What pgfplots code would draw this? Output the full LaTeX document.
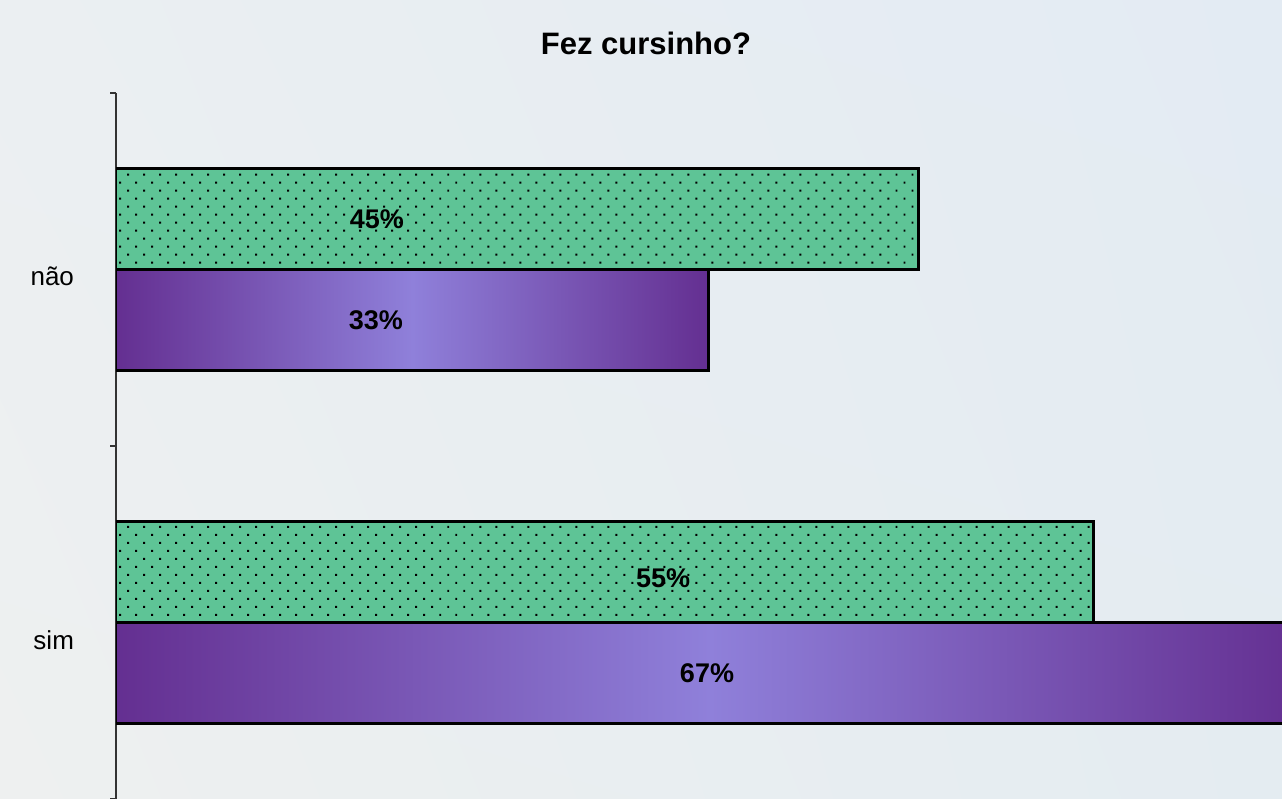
\documentclass[border=0pt]{standalone}
\usepackage{fontspec}
\setmainfont{Liberation Sans}
\usepackage{pgfplots}
\pgfplotsset{compat=1.18}
\usetikzlibrary{patterns.meta,shadings}
\definecolor{bgUL}{HTML}{EBEFF2}
\definecolor{bgUR}{HTML}{E3EBF3}
\definecolor{bgLL}{HTML}{EEF0F0}
\definecolor{bgLR}{HTML}{E4ECF1}
\definecolor{bargreen}{HTML}{5EC496}
\definecolor{pedge}{HTML}{642F91}
\definecolor{pmid}{HTML}{8F80DA}
\begin{document}
\begin{tikzpicture}
\shade[upper left=bgUL, upper right=bgUR, lower left=bgLL, lower right=bgLR] (0,0) rectangle (641pt,399.5pt);
\node[font=\bfseries\fontsize{15.5}{18}\selectfont] at (323pt,378pt) {Fez cursinho?};
\begin{axis}[
  at={(58pt,0pt)}, anchor=south west,
  scale only axis, width=583pt, height=353pt,
  xmin=0, xmax=65.5, ymin=0, ymax=2,
  axis x line=none, axis y line*=left,
  axis line style={draw=black!80, line width=1.4pt},
  every tick/.append style={draw=black!80, line width=1.4pt},
  ytick={0.45,1.482}, yticklabels={sim,não},
  major tick length=0pt,
  extra y ticks={0,1,2}, extra y tick labels={},
  extra y tick style={major tick length=3pt, tick align=outside,
    every tick/.append style={draw=black!80, line width=1.4pt}},
  yticklabel style={font=\fontsize{13}{15}\selectfont, xshift=-17.5pt},
  clip=true,
]
\addplot[xbar, bar width=0.286, bar shift=0.143, draw=black, line width=1.4pt,
  fill=bargreen,
  postaction={pattern={Dots[angle=45,distance=5.66pt,radius=0.7pt]}, pattern color=black}]
  coordinates {(45.1,1.5) (54.9,0.5)};
\addplot[xbar, bar width=0.286, bar shift=-0.143, draw=black, line width=1.4pt,
  left color=pedge, right color=pedge, middle color=pmid]
  coordinates {(33.3,1.5)};
\addplot[xbar, bar width=0.286, bar shift=-0.143, draw=black, line width=1.4pt,
  left color=pedge, right color=pedge, middle color=pmid]
  coordinates {(66.7,0.5)};
\node[font=\bfseries\fontsize{13.5}{16}\selectfont] at (axis cs:14.66,1.643) {45\%};
\node[font=\bfseries\fontsize{13.5}{16}\selectfont] at (axis cs:14.6,1.357) {33\%};
\node[font=\bfseries\fontsize{13.5}{16}\selectfont] at (axis cs:30.73,0.626) {55\%};
\node[font=\bfseries\fontsize{13.5}{16}\selectfont] at (axis cs:33.2,0.357) {67\%};
\end{axis}
\pgfresetboundingbox
\useasboundingbox (0,0) rectangle (641pt,399.5pt);
\end{tikzpicture}
\end{document}
